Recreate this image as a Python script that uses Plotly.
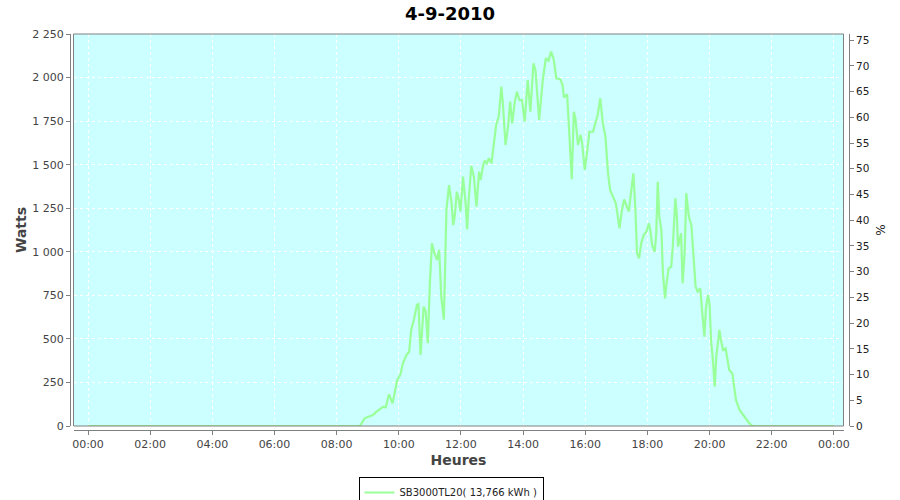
import plotly.graph_objects as go

DATE = "2010-09-04"
NEXT_DATE = "2010-09-05"

times = ["00:00", "08:45", "08:54", "09:01", "09:10", "09:17", "09:30", "09:35", "09:41", "09:48",
         "09:57", "10:03", "10:08", "10:15", "10:20", "10:24", "10:29", "10:35", "10:38", "10:42",
         "10:48", "10:52", "10:56", "11:00", "11:04", "11:09", "11:14", "11:18", "11:22", "11:27",
         "11:32", "11:37", "11:42", "11:45", "11:48", "11:52", "11:56", "11:59", "12:04", "12:09",
         "12:12", "12:15", "12:20", "12:25", "12:30", "12:35", "12:38", "12:43", "12:46", "12:50",
         "12:54", "12:59", "13:03", "13:08", "13:13", "13:18", "13:21", "13:26", "13:31", "13:35",
         "13:39", "13:44", "13:48", "13:53", "13:58", "14:03", "14:09", "14:14", "14:20", "14:24",
         "14:31", "14:38", "14:44", "14:49", "14:54", "14:59", "15:04", "15:12", "15:16", "15:19",
         "15:25", "15:28", "15:31", "15:34", "15:38", "15:41", "15:46", "15:51", "15:54", "15:59",
         "16:04", "16:08", "16:15", "16:20", "16:24", "16:29", "16:34", "16:39", "16:44", "16:48",
         "16:53", "16:59", "17:03", "17:06", "17:11", "17:15", "17:19", "17:24", "17:29", "17:33",
         "17:37", "17:40", "17:44", "17:48", "17:53", "17:58", "18:03", "18:06", "18:09", "18:14",
         "18:17", "18:20", "18:23", "18:27", "18:30", "18:34", "18:37", "18:41", "18:46", "18:49",
         "18:54", "18:57", "18:59", "19:05", "19:08", "19:12", "19:15", "19:20", "19:25", "19:29",
         "19:33", "19:37", "19:42", "19:46", "19:50", "19:53", "19:57", "20:00", "20:03", "20:06",
         "20:10", "20:13", "20:16", "20:19", "20:22", "20:26", "20:31", "20:35", "20:38", "20:44",
         "20:47", "20:51", "20:58", "21:05", "21:12", "21:17", "21:23"]

watts = [0, 0, 44, 53, 63, 82, 111, 107, 182, 130,
         264, 293, 360, 408, 426, 551, 608, 695, 700, 408,
         685, 656, 475, 819, 1049, 990, 953, 1012, 742, 610,
         1240, 1383, 1278, 1154, 1202, 1345, 1297, 1230, 1431, 1278,
         1129, 1297, 1493, 1431, 1259, 1460, 1412, 1498, 1523, 1508,
         1537, 1508, 1623, 1728, 1776, 1948, 1852, 1613, 1718, 1862,
         1737, 1862, 1919, 1871, 1871, 1747, 1986, 1804, 2082, 2040,
         1757, 1986, 2111, 2097, 2149, 2106, 1996, 1990, 1958, 1885,
         1904, 1747, 1546, 1416, 1804, 1766, 1613, 1671, 1623, 1470,
         1584, 1689, 1689, 1737, 1785, 1881, 1737, 1661, 1450, 1355,
         1316, 1278, 1200, 1135, 1240, 1301, 1270, 1230, 1355, 1450,
         1230, 991, 963, 1049, 1096, 1115, 1163, 1115, 1039, 1000,
         1100, 1402, 1202, 1125, 877, 733, 819, 905, 914, 1029,
         1307, 1202, 1029, 1106, 819, 1000, 1336, 1202, 1150, 972,
         800, 771, 790, 647, 513, 676, 752, 700, 484, 398,
         226, 398, 494, 551, 494, 436, 446, 369, 321, 302,
         245, 149, 92, 63, 34, 15, 0]

end_time = "00:00"  # midnight of the following day
end_watts = 0

series_name = "SB3000TL20( 13,766 kWh )"
title_text = "4-9-2010"

x_vals = [f"{DATE} {t}" for t in times] + [f"{NEXT_DATE} {end_time}"]
y_vals = watts + [end_watts]

font_family = "DejaVu Sans"
axis_gray = "#808080"
tick_color = "#444444"

ML, MR, MT, MB = 70, 51, 34, 70
PW = 900 - ML - MR
PH = 500 - MT - MB

fig = go.Figure()
fig.add_trace(go.Scatter(
    x=x_vals, y=y_vals, mode="lines", name=series_name,
    line=dict(color="#99ff99", width=2.2),
))
fig.add_trace(go.Scatter(
    x=[x_vals[0]], y=[None], yaxis="y2", mode="lines",
    showlegend=False, hoverinfo="skip",
))

fig.update_layout(
    width=900, height=500,
    margin=dict(l=ML, r=MR, t=MT, b=MB, autoexpand=False),
    paper_bgcolor="white",
    plot_bgcolor="#ccffff",
    font=dict(family=font_family, size=11, color=tick_color),
    title=dict(text=f"<b>{title_text}</b>", x=0.5, xref="container", xanchor="center",
               y=1 - 14 / 500, yref="container", yanchor="middle",
               font=dict(size=18, color="black", family=font_family)),
    showlegend=True,
    legend=dict(orientation="h", xref="paper", yref="paper",
                x=(451 - ML) / PW, xanchor="center", y=(MT + PH - 477) / PH, yanchor="top",
                bgcolor="white", bordercolor="black", borderwidth=1,
                font=dict(size=10, color="#222222"), itemwidth=30,
                tracegroupgap=0),
    xaxis=dict(
        type="date", automargin=False,
        domain=[3.5 / PW, (PW - 5.5) / PW],
        range=["2010-09-03 23:32:00", "2010-09-05 00:18:36"],
        anchor="free", position=0,
        tickformat="%H:%M", dtick=7200000, tick0=f"{DATE} 00:00",
        showline=True, linecolor=axis_gray, linewidth=1,
        ticks="outside", ticklen=4, tickcolor=axis_gray,
        showgrid=True, gridcolor="white", griddash="3px,3px", gridwidth=1,
        zeroline=False,
        title=dict(text="<b>Heures</b>", font=dict(size=14, color="#444444"), standoff=4),
        tickfont=dict(size=11, color=tick_color),
    ),
    yaxis=dict(
        automargin=False,
        domain=[4 / PH, 1],
        range=[0, 2250],
        anchor="free", position=0,
        tickvals=[0, 250, 500, 750, 1000, 1250, 1500, 1750, 2000, 2250],
        ticktext=["0", "250", "500", "750", "1 000", "1 250", "1 500", "1 750", "2 000", "2 250"],
        showline=True, linecolor=axis_gray, linewidth=1,
        ticks="outside", ticklen=4, tickcolor=axis_gray,
        showgrid=True, gridcolor="white", griddash="3px,3px", gridwidth=1,
        zeroline=False,
        title=dict(text="<b>Watts</b>", font=dict(size=14, color="#444444"), standoff=1),
        tickfont=dict(size=11, color=tick_color),
    ),
    yaxis2=dict(
        automargin=False,
        overlaying="y", side="right",
        range=[0, 76.2],
        anchor="free", position=1,
        dtick=5, tick0=0,
        showline=True, linecolor=axis_gray, linewidth=1,
        ticks="outside", ticklen=4, tickcolor=axis_gray,
        showgrid=False, zeroline=False,
        title=dict(text="%", font=dict(size=12, color="#222222"), standoff=8),
        tickfont=dict(size=10.5, color="#222222"),
    ),
    shapes=[dict(type="rect", xref="x domain", yref="y domain", x0=0, x1=1, y0=0, y1=1,
                 line=dict(color=axis_gray, width=1), fillcolor="rgba(0,0,0,0)", layer="above")],
)

fig.write_html("out.html", config={"displayModeBar": False},
               post_script="document.body.style.margin='0';document.body.style.padding='0';")
